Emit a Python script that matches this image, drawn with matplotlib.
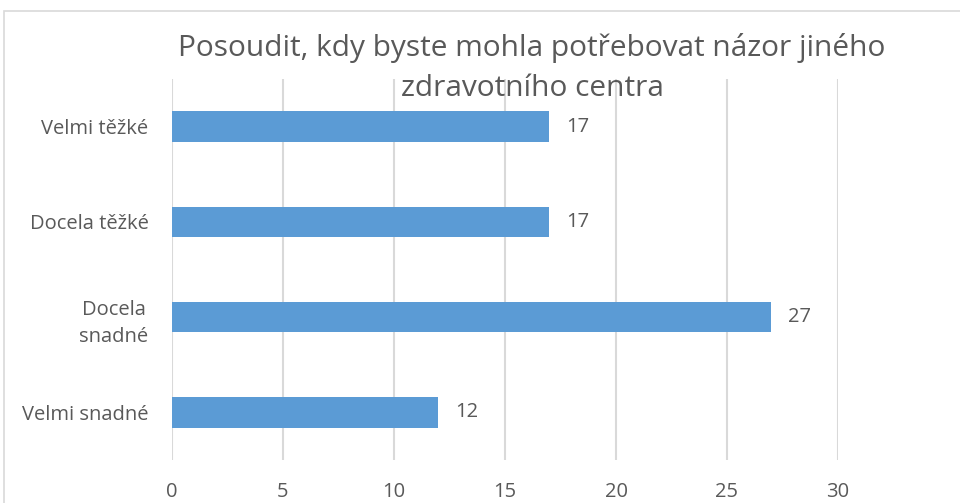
import matplotlib.pyplot as plt
from matplotlib.patches import Rectangle

categories = ['Velmi snadné', 'Docela\nsnadné', 'Docela těžké', 'Velmi těžké']
values = [12, 27, 17, 17]
title = 'Posoudit, kdy byste mohla potřebovat názor jiného\nzdravotního centra'

plt.rcParams['font.family'] = ['Open Sans', 'DejaVu Sans']
grey = '#595959'
bar_color = '#5b9bd5'

fig = plt.figure(figsize=(9.6, 5.03), dpi=100)
ax = fig.add_axes([172 / 960, 1 - 460 / 503, (838 - 172) / 960, (460 - 79) / 503])

# chart frame (partly cut off in the original screenshot)
fig.patches.append(Rectangle((4 / 960, -0.1), 1.1, 1 - 11 / 503 + 0.1,
                             transform=fig.transFigure, fill=False,
                             edgecolor='#d9d9d9', linewidth=1.2))

y = range(len(categories))
ax.barh(y, values, height=0.32, color=bar_color, zorder=3)
for i, v in enumerate(values):
    ax.text(v + 0.75, i, str(v), va='center', ha='left', fontsize=14.5, color=grey)

ax.set_xlim(0, 30)
ax.set_ylim(-0.5, 3.5)
ax.set_xticks(range(0, 31, 5))
ax.set_yticks(list(y))
ax.set_yticklabels(categories, fontsize=14.5, color=grey, linespacing=1.5,
                   multialignment='center')
ax.tick_params(axis='x', labelsize=14.5, labelcolor=grey, length=0, pad=16)
ax.tick_params(axis='y', length=0, pad=17)
ax.grid(axis='x', color='#d9d9d9', linewidth=1.5, zorder=0)
for s in ax.spines.values():
    s.set_visible(False)

fig.text(532 / 960, 1 - 68 / 503, title, ha='center', va='center',
         fontsize=21.5, color=grey, linespacing=1.5)

fig.savefig('out.png', dpi=100)
